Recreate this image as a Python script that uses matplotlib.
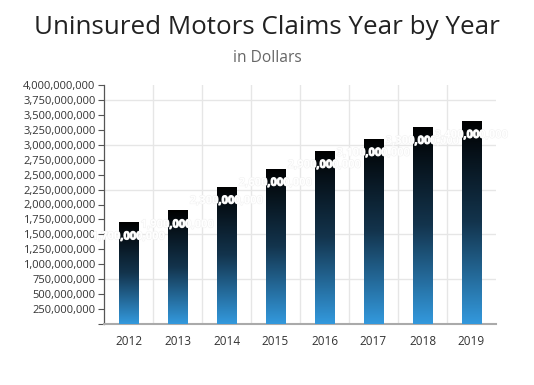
import matplotlib
matplotlib.use("Agg")
import matplotlib.pyplot as plt
import matplotlib.patheffects as pe
import matplotlib.transforms as mtrans
import numpy as np
from matplotlib.colors import LinearSegmentedColormap
from matplotlib.ticker import FuncFormatter, MultipleLocator

years = ["2012", "2013", "2014", "2015", "2016", "2017", "2018", "2019"]
claims = [1.7e9, 1.9e9, 2.3e9, 2.6e9, 2.9e9, 3.1e9, 3.3e9, 3.4e9]
title = "Uninsured Motors Claims Year by Year"
subtitle = "in Dollars"

plt.rcParams['font.family'] = ['Open Sans', 'DejaVu Sans']

W, H = 534, 385
fig = plt.figure(figsize=(W / 100, H / 100), dpi=100)
ax = fig.add_axes([104 / W, 1 - 324 / H, (496 - 104) / W, (324 - 85) / H])

x = np.arange(len(years))
ax.set_xlim(-0.5, len(years) - 0.5)
ax.set_ylim(0, 4e9)

cmap = LinearSegmentedColormap.from_list("g", ["#000000", "#13344d", "#3399dd"])
grad = np.linspace(0, 1, 256).reshape(-1, 1)
bw = 0.39
bars = ax.bar(x, claims, width=bw, color="none", edgecolor="none", zorder=3)
shift = mtrans.ScaledTranslation(0, -9 / 100, fig.dpi_scale_trans)
for b, v in zip(bars, claims):
    x0 = b.get_x()
    im = ax.imshow(grad, extent=[x0, x0 + bw, 0, v], aspect="auto", cmap=cmap,
                   origin="upper", zorder=3)
    im.set_clip_path(b)
    ax.text(x0 + bw / 2, v, f"{int(v):,}", ha="center", va="top",
            color="white", fontsize=8, fontweight="bold", zorder=5,
            transform=ax.transData + shift,
            path_effects=[pe.withStroke(linewidth=0.8, foreground="#f2f2f2")])

ax.set_xticks(x)
ax.set_xticklabels(years)
ax.yaxis.set_major_locator(MultipleLocator(250e6))
ax.yaxis.set_major_formatter(FuncFormatter(lambda v, p: "" if v == 0 else f"{int(v):,}"))
ax.tick_params(axis="y", labelsize=8, colors="#555555", length=4, width=0.8, labelcolor="#333333", pad=2)
ax.tick_params(axis="x", labelsize=8.5, length=0, labelcolor="#333333", pad=8)

# horizontal grid every 750M
for gy in np.arange(750e6, 4e9, 750e6):
    ax.axhline(gy, color="#e6e6e6", lw=1, zorder=1)
for gx in np.arange(0.5, len(years) - 0.5, 1):
    ax.axvline(gx, color="#e6e6e6", lw=1, zorder=1)

for s in ["top", "right"]:
    ax.spines[s].set_visible(False)
ax.spines["left"].set_color("#555555")
ax.spines["left"].set_linewidth(0.9)
ax.spines["bottom"].set_color("#aaaaaa")
ax.spines["bottom"].set_linewidth(1.5)

fig.text(267 / W, 1 - 27 / H, title, ha="center", va="center", fontsize=18.7, color="#222222")
fig.text(267 / W, 1 - 58 / H, subtitle, ha="center", va="center", fontsize=11.2, color="#666666")

fig.savefig("out.png", dpi=100)
